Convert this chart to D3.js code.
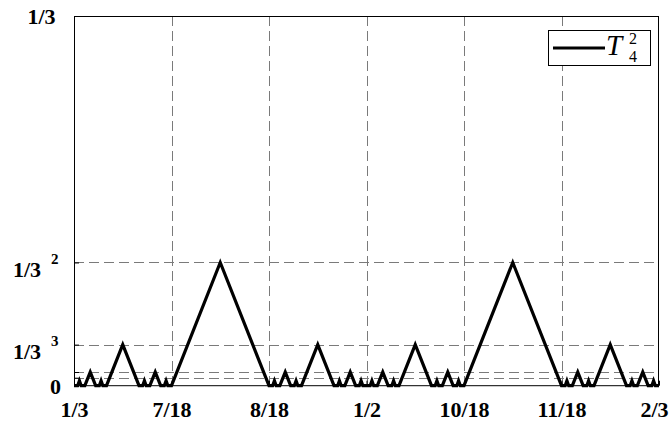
<!DOCTYPE html>
<html>
<head>
<meta charset="utf-8">
<script src="https://cdn.jsdelivr.net/npm/d3@7"></script>
<style>
  html, body { margin: 0; padding: 0; background: #fff; }
  svg { display: block; }
</style>
</head>
<body>
<div id="chart"></div>
<script>
// ---- data ----
const xTickValues = [6/18, 7/18, 8/18, 9/18, 10/18, 11/18, 12/18];
const xTickLabels = ["1/3", "7/18", "8/18", "1/2", "10/18", "11/18", "2/3"];

const yTickValues = [0, 0.0072, 1/81, 1/27, 1/9, 1/3];
const yTickLabels = ["0", "", "", "1/3", "1/3", "1/3\u00a0"];
const yTickSups   = ["",  "", "", "3",   "2",   ""];

const seriesName = "T";
const seriesSub = "4";
const seriesSup = "2";

// curve vertices: x numerators in units of 1/972, y values
const curveX972 = [
  324,326,327,328,330,333,336,338,339,340,342,351,360,362,363,364,366,369,372,374,375,376,378,
  405,432,
  434,435,436,438,441,444,446,447,448,450,459,468,470,471,472,474,477,480,482,483,484,486,
  488,489,490,492,495,498,500,501,502,504,513,522,524,525,526,528,531,534,536,537,538,540,
  567,594,
  596,597,598,600,603,606,608,609,610,612,621,630,632,633,634,636,639,642,644,645,646,648
];
const curveY = [
  0,0,0.0045,0,0,0.0123,0,0,0.0045,0,0,0.037,0,0,0.0045,0,0,0.0123,0,0,0.0045,0,0,
  0.1111,0,
  0,0.0045,0,0,0.0123,0,0,0.0045,0,0,0.037,0,0,0.0045,0,0,0.0123,0,0,0.0045,0,0,
  0,0.0045,0,0,0.0123,0,0,0.0045,0,0,0.037,0,0,0.0045,0,0,0.0123,0,0,0.0045,0,0,
  0.1111,0,
  0,0.0045,0,0,0.0123,0,0,0.0045,0,0,0.037,0,0,0.0045,0,0,0.0123,0,0,0.0045,0,0
];

// ---- layout ----
const W = 670, H = 421;
const L = 74, R = 659, T = 16, B = 385.7;
const fontFam = "Liberation Serif, Times New Roman, serif";

const svg = d3.select("#chart").append("svg")
  .attr("width", W).attr("height", H);

const x = d3.scaleLinear().domain([1/3, 2/3]).range([L, R]);
const y = d3.scaleLinear().domain([0, 1/3]).range([B, T]);

// grid
const grid = svg.append("g").attr("stroke", "#7a7a7a").attr("stroke-width", 1)
  .attr("stroke-dasharray", "10,5").attr("fill", "none");
grid.selectAll("line.v").data(xTickValues.slice(1, -1)).join("line")
  .attr("class", "v")
  .attr("x1", d => Math.round(x(d)) + 0.5).attr("x2", d => Math.round(x(d)) + 0.5)
  .attr("y1", T).attr("y2", B);
grid.selectAll("line.h").data(yTickValues.slice(1, -1)).join("line")
  .attr("class", "h")
  .attr("x1", L).attr("x2", R)
  .attr("y1", d => Math.round(y(d)) + 0.5).attr("y2", d => Math.round(y(d)) + 0.5);

// axes (ticks inward)
const xAxis = d3.axisBottom(x).tickValues(xTickValues)
  .tickFormat((d, i) => xTickLabels[i]).tickSizeInner(-5).tickSizeOuter(0);
const gx = svg.append("g").attr("transform", `translate(0,${B})`).call(xAxis);
gx.select(".domain").remove();
gx.selectAll("text")
  .attr("y", 31).attr("dy", 0)
  .attr("font-family", fontFam).attr("font-weight", "bold").attr("font-size", 22)
  .attr("fill", "#000");
// keep labels inside the figure
gx.selectAll(".tick").each(function(d) {
  const t = d3.select(this).select("text");
  const bb = t.node().getBBox();
  const right = x(d) + bb.x + bb.width;
  if (right > W - 2) t.attr("x", (W - 2) - right);
});

const yAxis = d3.axisLeft(y).tickValues(yTickValues)
  .tickFormat((d, i) => yTickLabels[i]).tickSizeInner(-5).tickSizeOuter(0);
const gy = svg.append("g").attr("transform", `translate(${L},0)`).call(yAxis);
gy.select(".domain").remove();
gy.selectAll(".tick").each(function(d, i) {
  const g = d3.select(this);
  const t = g.select("text");
  t.attr("font-family", fontFam).attr("font-weight", "bold").attr("font-size", 22)
   .attr("fill", "#000");
  if (yTickSups[i]) {
    t.attr("x", -33).attr("y", 14).attr("dy", 0).attr("text-anchor", "end");
    g.append("text").text(yTickSups[i])
      .attr("x", -23).attr("y", 1)
      .attr("text-anchor", "start")
      .attr("font-family", fontFam).attr("font-weight", "bold").attr("font-size", 15)
      .attr("fill", "#000");
  } else {
    t.attr("x", -13).attr("dy", "0.35em").attr("text-anchor", "end");
  }
});

// frame
svg.append("rect")
  .attr("x", L + 0.5).attr("y", T + 0.5)
  .attr("width", R - L - 1).attr("height", B - T - 0.5)
  .attr("fill", "none").attr("stroke", "#000").attr("stroke-width", 1);

// curve
const pts = curveX972.map((n, i) => [n / 972, curveY[i]]);
const line = d3.line().x(d => x(d[0])).y(d => y(d[1]));
svg.append("path").datum(pts)
  .attr("d", line)
  .attr("fill", "none").attr("stroke", "#000").attr("stroke-width", 3.2)
  .attr("stroke-linejoin", "miter").attr("stroke-miterlimit", 10);

// legend
const lg = svg.append("g");
lg.append("rect").attr("x", 548.5).attr("y", 30.5).attr("width", 102).attr("height", 35)
  .attr("fill", "#fff").attr("stroke", "#000").attr("stroke-width", 1);
lg.append("line").attr("x1", 553).attr("x2", 605).attr("y1", 48).attr("y2", 48)
  .attr("stroke", "#000").attr("stroke-width", 3.2);
lg.append("text").text(seriesName).attr("x", 606).attr("y", 55)
  .attr("font-family", fontFam).attr("font-style", "italic").attr("font-size", 29)
  .attr("fill", "#000");
lg.append("text").text(seriesSup).attr("x", 629).attr("y", 44)
  .attr("font-family", fontFam).attr("font-size", 16).attr("fill", "#000");
lg.append("text").text(seriesSub).attr("x", 629).attr("y", 62)
  .attr("font-family", fontFam).attr("font-size", 16).attr("fill", "#000");
</script>
</body>
</html>
